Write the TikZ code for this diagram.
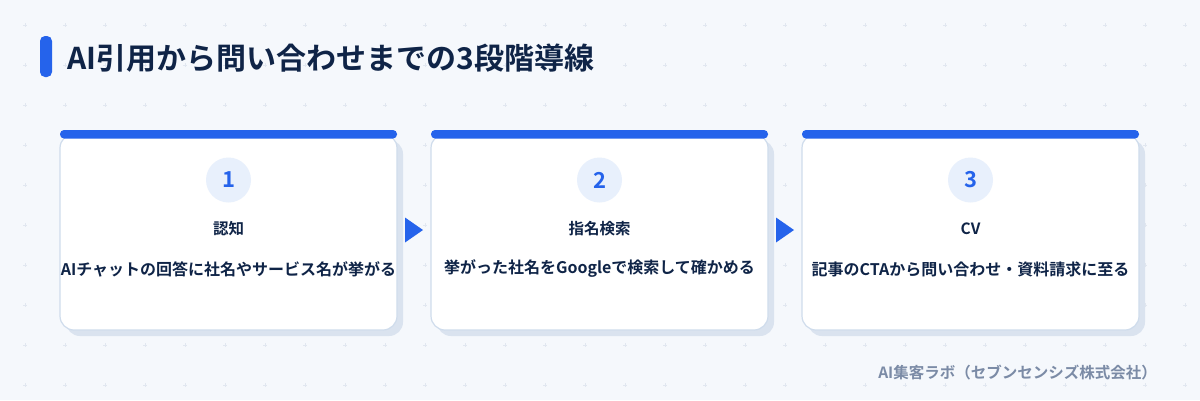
\documentclass[tikz,border=0pt]{standalone}
\usepackage{fontspec}
\setmainfont{Noto Sans CJK JP}[BoldFont={Noto Sans CJK JP Bold}]
\usetikzlibrary{positioning}
\definecolor{bg}{HTML}{F5F8FC}
\definecolor{gridc}{HTML}{E1E7F0}
\definecolor{accent}{HTML}{2563EB}
\definecolor{navy}{HTML}{0F2447}
\definecolor{cardborder}{HTML}{CFDCEC}
\definecolor{shadowc}{HTML}{DAE3EF}
\definecolor{circlec}{HTML}{E8F0FC}
\definecolor{footc}{HTML}{7B8BA6}
\tikzset{
  cardshadow/.style={fill=shadowc, rounded corners=14pt},
  cardbody/.style={fill=white, draw=cardborder, line width=1.2pt, rounded corners=14pt},
  topbar/.style={fill=accent, rounded corners=4pt},
  numcircle/.style={circle, fill=circlec, minimum size=45pt, inner sep=0pt, text=accent, font=\bfseries\fontsize{22}{24}\selectfont},
  steptitle/.style={text=navy, font=\bfseries\fontsize{15.5}{17}\selectfont, inner sep=0pt},
  stepdesc/.style={text=navy, font=\bfseries\fontsize{16}{18}\selectfont, inner sep=0pt},
  arrowtri/.style={fill=accent},
}
\begin{document}
\begin{tikzpicture}[x=1pt,y=-1pt]
\fill[bg] (0,0) rectangle (1200,400);
\useasboundingbox (0,0) rectangle (1200,400);
% grid of faint plus marks
\foreach \gx in {25,65,...,1185} {
  \foreach \gy in {25,65,...,385} {
    \draw[gridc, line width=0.6pt] (\gx-2,\gy) -- (\gx+2,\gy) (\gx,\gy-2) -- (\gx,\gy+2);
  }
}
% title
\fill[accent, rounded corners=5pt] (40,36) rectangle (52,77);
\node[anchor=west, text=navy, font=\bfseries\fontsize{30}{34}\selectfont, inner sep=0pt] (title) at (67,58) {AI引用から問い合わせまでの3段階導線};
% cards
\foreach \i/\x/\num/\ttl/\desc in {
  1/60/1/認知/AIチャットの回答に社名やサービス名が挙がる,
  2/431/2/指名検索/挙がった社名をGoogleで検索して確かめる,
  3/802/3/CV/記事のCTAから問い合わせ・資料請求に至る} {
  \fill[cardshadow] (\x+6,140) rectangle (\x+343,336);
  \draw[cardbody] (\x,134) rectangle (\x+337,330);
  \fill[topbar] (\x,130) rectangle (\x+337,138.5);
  \node[numcircle] (num\i) at (\x+168.5,180) {\num};
  \node[steptitle] (ttl\i) at (\x+168.5,229) {\ttl};
  \node[stepdesc] (desc\i) at (\x+168.5,269) {\desc};
  \coordinate (cardR\i) at (\x+337,230);
}
% arrows between cards
\foreach \i in {1,2} {
  \fill[arrowtri] ([xshift=8pt,yshift=-12.5pt]cardR\i) -- ([xshift=26pt]cardR\i) -- ([xshift=8pt,yshift=12.5pt]cardR\i) -- cycle;
}
% footer
\node[anchor=east, text=footc, font=\bfseries\fontsize{15.5}{17}\selectfont, inner sep=0pt] (footer) at (1157,373) {AI集客ラボ（セブンセンシズ株式会社）};
\end{tikzpicture}
\end{document}
